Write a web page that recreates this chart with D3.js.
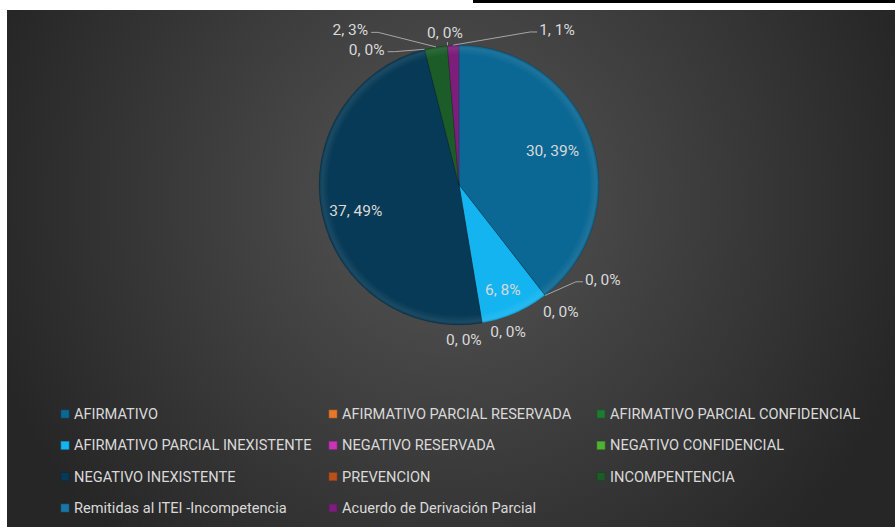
<!DOCTYPE html>
<html>
<head>
<meta charset="utf-8">
<script src="https://cdn.jsdelivr.net/npm/d3@7"></script>
<style>
  body { margin: 0; background: #fff; }
  svg { display: block; }
</style>
</head>
<body>
<svg id="chart" width="895" height="527"></svg>
<script>
var categories = [
    "AFIRMATIVO", "AFIRMATIVO PARCIAL RESERVADA", "AFIRMATIVO PARCIAL CONFIDENCIAL",
    "AFIRMATIVO PARCIAL INEXISTENTE", "NEGATIVO RESERVADA", "NEGATIVO CONFIDENCIAL",
    "NEGATIVO INEXISTENTE", "PREVENCION", "INCOMPENTENCIA",
    "Remitidas al ITEI -Incompetencia", "Acuerdo de Derivación Parcial"
]
var values = [30, 0, 0, 6, 0, 0, 37, 0, 2, 0, 1]
var colors = [
    "#0b6894", "#e8782a", "#1f7a34", "#14b4f0", "#c834b8", "#4fb234",
    "#073a56", "#b8521a", "#1b5c29", "#1a76a4", "#7c1e7a"
]
// label placement: angle (deg, clockwise from top) and radius factor, leader line
var labelAngle = [70.1, 123.4, 141.2, 157.3, 161.6, 178.2, 256, 325.7, 324.9, 354.7, 32.3]
var labelRadius = [0.71, 1.23, 1.16, 0.81, 1.11, 1.11, 0.76, 1.17, 1.35, 1.09, 1.31]
var labelLeader = [false, true, false, false, false, false, false, true, true, true, true]

var svg = d3.select('#chart')
var W = 895, H = 527
var cx = 459, cy = 185, R = 140
var font = "Roboto, 'Liberation Sans', sans-serif"
var textColor = "#d9d9d9"

var defs = svg.append('defs')
var bg = defs.append('radialGradient')
    .attr('id', 'bgGrad')
    .attr('gradientUnits', 'userSpaceOnUse')
    .attr('cx', 450).attr('cy', 200).attr('r', 480)
bg.append('stop').attr('offset', '0%').attr('stop-color', '#555555')
bg.append('stop').attr('offset', '100%').attr('stop-color', '#262626')

var bevel = defs.append('radialGradient').attr('id', 'bevel')
bevel.append('stop').attr('offset', '0%').attr('stop-color', '#fff').attr('stop-opacity', 0)
bevel.append('stop').attr('offset', '93%').attr('stop-color', '#fff').attr('stop-opacity', 0)
bevel.append('stop').attr('offset', '98%').attr('stop-color', '#fff').attr('stop-opacity', 0.08)
bevel.append('stop').attr('offset', '100%').attr('stop-color', '#000').attr('stop-opacity', 0.12)

// chart area
svg.append('rect')
    .attr('x', 7).attr('y', 10)
    .attr('width', W - 7).attr('height', H - 10)
    .attr('fill', 'url(#bgGrad)')
svg.append('rect')
    .attr('x', 473).attr('y', 0)
    .attr('width', W - 473).attr('height', 3)
    .attr('fill', '#000')

var total = d3.sum(values)
var pie = d3.pie().sort(null).value(d => d)
var arcs = pie(values)
var arc = d3.arc().innerRadius(0).outerRadius(R)

var g = svg.append('g').attr('transform', 'translate(' + cx + ',' + cy + ')')

g.selectAll('.slice')
    .data(arcs)
    .enter()
    .append('path')
    .attr('class', 'slice')
    .attr('d', arc)
    .attr('fill', (d, i) => colors[i])
    .attr('stroke', 'rgba(0,0,0,0.2)')
    .attr('stroke-width', 0.6)

g.append('circle')
    .attr('r', R)
    .attr('fill', 'url(#bevel)')
    .style('pointer-events', 'none')

// data labels
var toRad = Math.PI / 180
arcs.forEach(function (d, i) {
    var a = labelAngle[i] * toRad
    var rr = labelRadius[i] * R
    var lx = rr * Math.sin(a), ly = -rr * Math.cos(a)
    var pct = Math.round(values[i] / total * 100)
    var t = g.append('text')
        .attr('x', lx).attr('y', ly)
        .attr('text-anchor', 'middle')
        .attr('dominant-baseline', 'central')
        .attr('font-family', font)
        .attr('font-size', 15.5)
        .attr('fill', textColor)
        .text(values[i] + ', ' + pct + '%')
    if (labelLeader[i]) {
        var bb = t.node().getBBox()
        var mid = (d.startAngle + d.endAngle) / 2
        var px = R * Math.sin(mid), py = -R * Math.cos(mid)
        var pts
        if (px < bb.x) {
            pts = [[px, py], [bb.x - 9, ly + 2], [bb.x - 2, ly + 2]]
        } else if (px > bb.x + bb.width) {
            pts = [[px, py], [bb.x + bb.width + 10, ly + 2], [bb.x + bb.width + 3, ly + 2]]
        } else {
            pts = [[px, py], [px, bb.y + bb.height]]
        }
        g.append('path')
            .attr('d', d3.line()(pts))
            .attr('fill', 'none')
            .attr('stroke', '#a6a6a6')
            .attr('stroke-width', 1)
    }
})

// legend
var colX = d3.scalePoint().domain([0, 1, 2]).range([61, 597])
var rowY = d3.scalePoint().domain([0, 1, 2, 3]).range([414, 508])
var legend = svg.append('g')
categories.forEach(function (c, i) {
    var x = colX(i % 3), y = rowY(Math.floor(i / 3))
    legend.append('rect')
        .attr('x', x).attr('y', y - 4)
        .attr('width', 8).attr('height', 8)
        .attr('fill', colors[i])
        .attr('stroke', d3.color(colors[i]).darker(0.8))
        .attr('stroke-width', 0.6)
    legend.append('text')
        .attr('x', x + 13).attr('y', y)
        .attr('dominant-baseline', 'central')
        .attr('font-family', font)
        .attr('font-size', 14.6)
        .attr('fill', textColor)
        .text(c)
})
</script>
</body>
</html>
